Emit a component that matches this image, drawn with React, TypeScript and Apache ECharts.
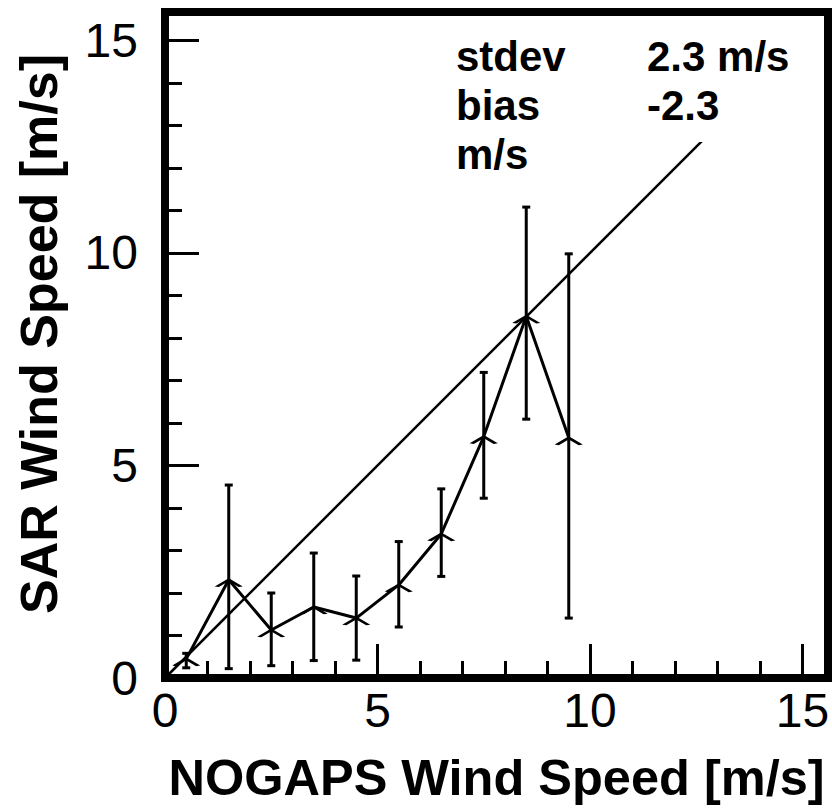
import React, { useEffect, useRef } from "react";
import * as echarts from "echarts";

// NOGAPS wind speed bin centres [m/s]
const binCenters = [0.5, 1.5, 2.5, 3.5, 4.5, 5.5, 6.5, 7.5, 8.5, 9.5];
// mean SAR wind speed per bin [m/s]
const sarMean = [0.45, 2.31, 1.13, 1.67, 1.41, 2.19, 3.39, 5.68, 8.51, 5.65];
// error bar lower / upper ends [m/s]
const sarLow = [0.24, 0.22, 0.29, 0.41, 0.42, 1.2, 2.39, 4.23, 6.09, 1.41];
const sarHigh = [0.58, 4.54, 2.0, 2.94, 2.4, 3.21, 4.45, 7.19, 11.08, 9.98];
// axis ranges and ticks
const xMax = 15.6;
const yMax = 15.67;
const majorTicks = [0, 5, 10, 15];
const minorTicks = [1, 2, 3, 4, 6, 7, 8, 9, 11, 12, 13, 14];
// 1:1 reference line
const oneToOne = [
  [0, 0],
  [15.6, 15.6],
];
// statistics annotation
const statLabels = ["stdev", "bias", "m/s"];
const statValues = ["2.3 m/s", "-2.3"];

const FONT = "'Liberation Sans', Arial, Helvetica, sans-serif";

export default function App() {
  const ref = useRef<HTMLDivElement>(null);

  useEffect(() => {
    document.body.style.margin = "0";
    if (!ref.current) return;
    const chart = echarts.init(ref.current, undefined, { renderer: "svg" });

    const tickStyle = { color: "#000", width: 3 };
    const labelStyle = { color: "#000", fontSize: 48, fontFamily: FONT };
    const nameStyle = {
      color: "#000",
      fontSize: 52,
      fontWeight: "bold" as const,
      fontFamily: FONT,
    };

    const errData = binCenters.map((x, i) => [x, sarLow[i], sarHigh[i]]);
    const meanData = binCenters.map((x, i) => [x, sarMean[i]]);

    const chevron = "path://M0,6 L11,0 L22,6";

    chart.setOption({
      animation: false,
      backgroundColor: "#fff",
      grid: {
        left: 165,
        right: 4,
        top: 12,
        bottom: 133,
        containLabel: false,
        outerBoundsMode: "none",
        show: true,
        borderColor: "#000",
        borderWidth: 8,
        backgroundColor: "transparent",
      },
      xAxis: [
        {
          type: "value",
          min: 0,
          max: xMax,
          position: "bottom",
          axisLine: { show: false, onZero: false },
          splitLine: { show: false },
          axisTick: {
            show: true,
            inside: true,
            length: 34,
            lineStyle: tickStyle,
            customValues: majorTicks,
          },
          axisLabel: { ...labelStyle, margin: 8, customValues: majorTicks },
          name: "NOGAPS Wind Speed [m/s]",
          nameLocation: "middle",
          nameGap: 74,
          nameTextStyle: { ...nameStyle, fontSize: 50.5 },
        },
        {
          type: "value",
          min: 0,
          max: xMax,
          position: "bottom",
          axisLine: { show: false, onZero: false },
          splitLine: { show: false },
          axisTick: {
            show: true,
            inside: true,
            length: 17,
            lineStyle: tickStyle,
            customValues: minorTicks,
          },
          axisLabel: { show: false },
        },
      ],
      yAxis: [
        {
          type: "value",
          min: 0,
          max: yMax,
          position: "left",
          axisLine: { show: false, onZero: false },
          splitLine: { show: false },
          axisTick: {
            show: true,
            inside: true,
            length: 34,
            lineStyle: tickStyle,
            customValues: majorTicks,
          },
          axisLabel: { ...labelStyle, margin: 27, customValues: majorTicks },
          name: "SAR Wind Speed [m/s]",
          nameLocation: "middle",
          nameGap: 100,
          nameTextStyle: { ...nameStyle, padding: [0, 0, 0, 22] },
        },
        {
          type: "value",
          min: 0,
          max: yMax,
          position: "left",
          axisLine: { show: false, onZero: false },
          splitLine: { show: false },
          axisTick: {
            show: true,
            inside: true,
            length: 17,
            lineStyle: tickStyle,
            customValues: minorTicks,
          },
          axisLabel: { show: false },
        },
      ],
      series: [
        {
          type: "line",
          name: "1:1",
          data: oneToOne,
          symbol: "none",
          lineStyle: { color: "#000", width: 2.5 },
          silent: true,
          z: 2,
        },
        {
          type: "custom",
          name: "error",
          data: errData,
          encode: { x: 0, y: [1, 2] },
          z: 3,
          renderItem: (params: any, api: any) => {
            const x = api.value(0);
            const lo = api.coord([x, api.value(1)]);
            const hi = api.coord([x, api.value(2)]);
            const cap = 4;
            const style = { stroke: "#000", lineWidth: 3 };
            return {
              type: "group",
              children: [
                {
                  type: "line",
                  shape: { x1: lo[0], y1: lo[1], x2: hi[0], y2: hi[1] },
                  style,
                },
                {
                  type: "line",
                  shape: { x1: lo[0] - cap, y1: lo[1], x2: lo[0] + cap, y2: lo[1] },
                  style,
                },
                {
                  type: "line",
                  shape: { x1: hi[0] - cap, y1: hi[1], x2: hi[0] + cap, y2: hi[1] },
                  style,
                },
              ],
            };
          },
        },
        {
          type: "line",
          name: "SAR",
          data: meanData,
          symbol: chevron,
          symbolSize: [24, 7],
          symbolOffset: [0, 3.5],
          showAllSymbol: true,
          lineStyle: { color: "#000", width: 3 },
          itemStyle: {
            color: "rgba(0,0,0,0)",
            borderColor: "#000",
            borderWidth: 2.5,
          },
          z: 4,
        },
      ],
      graphic: [
        {
          type: "rect",
          shape: { x: 600, y: 16, width: 224, height: 126 },
          style: { fill: "#fff" },
          z: 100,
          silent: true,
        },
        ...statLabels.map((t, i) => ({
          type: "text",
          x: 456,
          y: 56 + i * 49,
          z: 101,
          style: {
            text: t,
            fill: "#000",
            font: `bold 42px ${FONT}`,
            textAlign: "left",
            textVerticalAlign: "middle",
          },
        })),
        ...statValues.map((t, i) => ({
          type: "text",
          x: 647,
          y: 56 + i * 49,
          z: 101,
          style: {
            text: t,
            fill: "#000",
            font: `bold 42px ${FONT}`,
            textAlign: "left",
            textVerticalAlign: "middle",
          },
        })),
      ],
    });

    return () => chart.dispose();
  }, []);

  return (
    <div
      ref={ref}
      style={{ position: "fixed", left: 0, top: 0, width: 832, height: 811 }}
    />
  );
}
